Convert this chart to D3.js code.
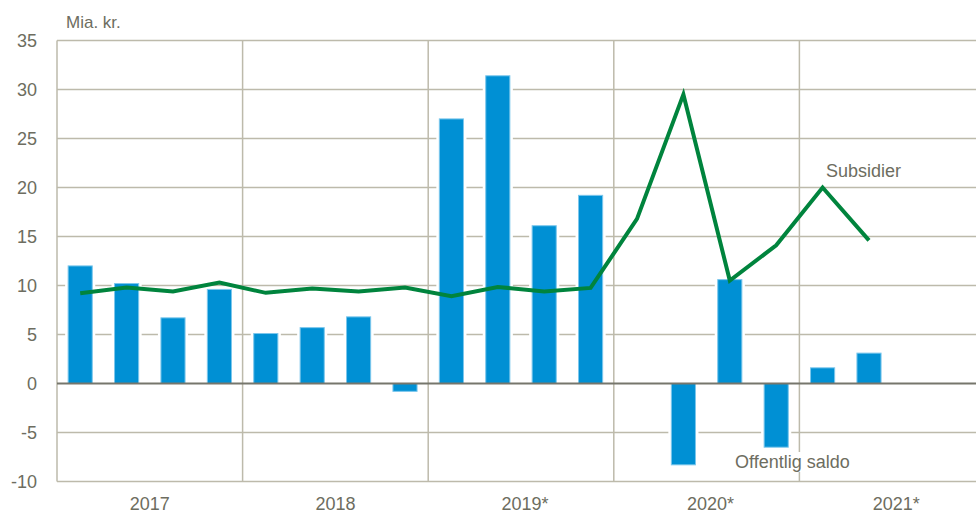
<!DOCTYPE html>
<html>
<head>
<meta charset="utf-8">
<script src="https://cdn.jsdelivr.net/npm/d3@7"></script>
<style>
  body { margin: 0; background: #fff; }
  svg { display: block; font-family: "Liberation Sans", Arial, sans-serif; }
  .lbl { fill: #6d6d60; }
</style>
</head>
<body>
<svg id="chart"></svg>
<script>
// quarters 2017-2021
const quarters = [
  "2017K1", "2017K2", "2017K3", "2017K4",
  "2018K1", "2018K2", "2018K3", "2018K4",
  "2019K1", "2019K2", "2019K3", "2019K4",
  "2020K1", "2020K2", "2020K3", "2020K4",
  "2021K1", "2021K2", "2021K3", "2021K4"
];
const years = ["2017", "2018", "2019*", "2020*", "2021*"];

// Offentlig saldo (bars), mia. kr.
const saldo = [12.0, 10.2, 6.7, 9.6, 5.1, 5.7, 6.8, -0.8,
  27.0, 31.4, 16.1, 19.2, null, -8.3, 10.6, -6.5, 1.6, 3.1, null, null];
// Subsidier (line), mia. kr.
const subsidier = [9.2, 9.8, 9.4, 10.3, 9.25, 9.7, 9.4, 9.8,
  8.9, 9.85, 9.4, 9.75, 16.8, 29.5, 10.5, 14.1, 20.0, 14.6, null, null];

const yTicks = [35, 30, 25, 20, 15, 10, 5, 0, -5, -10];

const width = 976, height = 513;
const plotLeft = 57, plotRight = 985, plotTop = 40.5, plotBottom = 481.5;

const svg = d3.select("#chart")
  .attr("width", width)
  .attr("height", height);

const x = d3.scaleBand()
  .domain(quarters)
  .range([plotLeft, plotRight])
  .paddingInner(0.48)
  .paddingOuter(0.24);

const xYear = d3.scaleBand()
  .domain(years)
  .range([plotLeft, plotRight]);

const y = d3.scaleLinear()
  .domain([-10, 35])
  .range([plotBottom, plotTop]);

const gridColor = "#bdbaab";

// horizontal gridlines
svg.append("g")
  .selectAll("line")
  .data(yTicks.filter(d => d !== 0))
  .join("line")
    .attr("x1", plotLeft)
    .attr("x2", width)
    .attr("y1", d => y(d))
    .attr("y2", d => y(d))
    .attr("stroke", gridColor)
    .attr("stroke-width", 1.5);

// vertical year lines
svg.append("g")
  .selectAll("line")
  .data(years)
  .join("line")
    .attr("x1", d => xYear(d))
    .attr("x2", d => xYear(d))
    .attr("y1", plotTop)
    .attr("y2", plotBottom)
    .attr("stroke", gridColor)
    .attr("stroke-width", 1.5);

// y tick labels
svg.append("g")
  .selectAll("text")
  .data(yTicks)
  .join("text")
    .classed("lbl", true)
    .attr("x", 37)
    .attr("y", d => y(d))
    .attr("dy", "0.35em")
    .attr("text-anchor", "end")
    .attr("font-size", 18)
    .text(d => d);

svg.append("text")
  .classed("lbl", true)
  .attr("x", 66)
  .attr("y", 28)
  .attr("font-size", 17)
  .text("Mia. kr.");

// year labels
svg.append("g")
  .selectAll("text")
  .data(years)
  .join("text")
    .classed("lbl", true)
    .attr("x", d => xYear(d) + xYear.bandwidth() / 2 + (d.endsWith("*") ? 4 : 0))
    .attr("y", 510)
    .attr("text-anchor", "middle")
    .attr("font-size", 18)
    .text(d => d);

// bars
const barData = quarters.map((q, i) => ({ q, v: saldo[i] })).filter(d => d.v !== null);
const rectY = d => y(Math.max(0, d.v));
const rectH = d => Math.abs(y(d.v) - y(0));

svg.append("g")
  .selectAll("rect")
  .data(barData)
  .join("rect")
    .attr("x", d => x(d.q))
    .attr("y", rectY)
    .attr("width", x.bandwidth())
    .attr("height", rectH)
    .attr("fill", "#fff")
    .attr("stroke", "#fff")
    .attr("stroke-width", 6);

svg.append("g")
  .selectAll("rect")
  .data(barData)
  .join("rect")
    .attr("x", d => x(d.q))
    .attr("y", rectY)
    .attr("width", x.bandwidth())
    .attr("height", rectH)
    .attr("fill", "#0090d4")
    .attr("stroke", "#7cc7ec")
    .attr("stroke-width", 1);

// zero line
svg.append("line")
  .attr("x1", plotLeft)
  .attr("x2", width)
  .attr("y1", y(0))
  .attr("y2", y(0))
  .attr("stroke", "#76766c")
  .attr("stroke-width", 2);

// subsidier line
const line = d3.line()
  .defined(d => d.v !== null)
  .x(d => x(d.q) + x.bandwidth() / 2)
  .y(d => y(d.v));

svg.append("path")
  .datum(quarters.map((q, i) => ({ q, v: subsidier[i] })))
  .attr("fill", "none")
  .attr("stroke", "#00843d")
  .attr("stroke-width", 4)
  .attr("stroke-linejoin", "miter")
  .attr("d", line);

// series labels
svg.append("text")
  .classed("lbl", true)
  .attr("x", 826)
  .attr("y", 177)
  .attr("font-size", 18)
  .text("Subsidier");

svg.append("rect")
  .attr("x", 734)
  .attr("y", 452)
  .attr("width", 113)
  .attr("height", 20)
  .attr("fill", "#fff");

svg.append("text")
  .classed("lbl", true)
  .attr("x", 735)
  .attr("y", 468)
  .attr("font-size", 18)
  .text("Offentlig saldo");
</script>
</body>
</html>
